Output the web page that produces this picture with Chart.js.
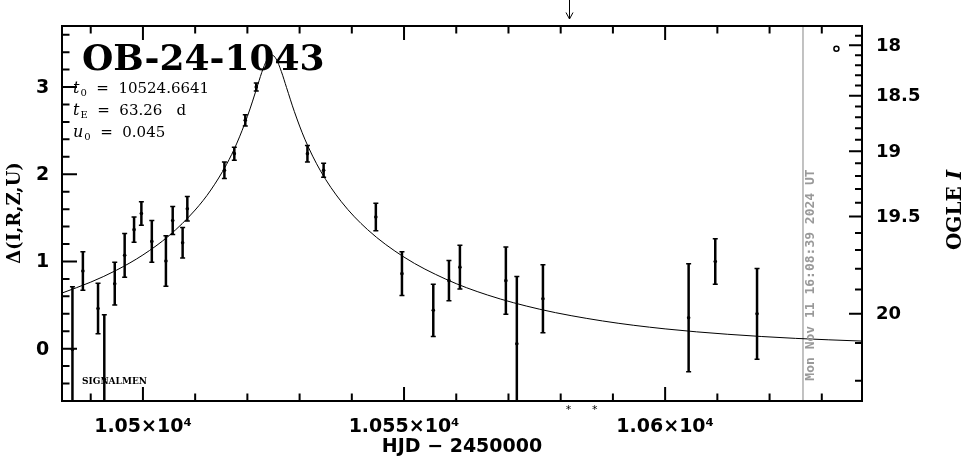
<!DOCTYPE html>
<html>
<head>
<meta charset="utf-8">
<script src="https://cdn.jsdelivr.net/npm/chart.js@4.4.1/dist/chart.umd.min.js"></script>
<style>
html, body { margin: 0; padding: 0; background: #fff; }
canvas { display: block; }
</style>
</head>
<body>
<canvas id="chart" width="965" height="459"></canvas>
<script>
// observations (HJD - 2450000, delta, error)
const obsT = [10486.5, 10488.5, 10491.4, 10492.6, 10494.6, 10496.5, 10498.3, 10499.7, 10501.7, 10504.4,
  10505.7, 10507.6, 10508.5, 10515.6, 10517.5, 10519.6, 10521.7, 10531.5, 10534.6, 10544.6,
  10549.6, 10555.6, 10558.6, 10560.7, 10569.5, 10571.6, 10576.6, 10604.5, 10609.6, 10617.6];
const obsDelta = [-0.01, 0.89, 0.46, -0.35, 0.745, 1.07, 1.365, 1.55, 1.23, 1.005,
  1.47, 1.215, 1.605, 2.045, 2.236, 2.618, 3.0, 2.236, 2.045, 1.51,
  0.86, 0.44, 0.78, 0.935, 0.78, 0.057, 0.573, 0.355, 1.0, 0.40];
const obsErr = [0.72, 0.22, 0.29, 0.74, 0.245, 0.25, 0.145, 0.135, 0.24, 0.29,
  0.16, 0.175, 0.14, 0.095, 0.075, 0.065, 0.045, 0.095, 0.08, 0.157,
  0.25, 0.30, 0.23, 0.25, 0.385, 0.77, 0.39, 0.62, 0.26, 0.52];

// model curve
const modelT = [10484.5, 10490, 10495, 10500, 10505, 10510, 10513, 10516, 10518, 10520,
  10521, 10522, 10523, 10524, 10524.66, 10525.5, 10526.5, 10527.5, 10529, 10531,
  10534, 10538, 10543, 10550, 10558, 10566, 10576, 10588, 10600, 10612, 10625, 10637.7];
const modelDelta = [0.638, 0.763, 0.902, 1.075, 1.296, 1.590, 1.819, 2.112, 2.358, 2.663,
  2.839, 3.027, 3.209, 3.339, 3.368, 3.323, 3.179, 2.994, 2.718, 2.403,
  2.039, 1.685, 1.366, 1.050, 0.797, 0.615, 0.452, 0.318, 0.227, 0.165, 0.118, 0.087];

// baseline marker
const baseT = [10632.8];
const baseDelta = [3.44];

// axes
const xMin = 10484.5, xMax = 10637.7;
const yMin = -0.6, yMax = 3.7;
const xTickValues = [10500, 10550, 10600];
const xTickLabels = ['1.05×10⁴', '1.055×10⁴', '1.06×10⁴'];
const yTickValues = [0, 1, 2, 3];
const magTicks = [17.9, 18.0, 18.1, 18.2, 18.3, 18.4, 18.5, 18.6, 18.7, 18.8, 18.9, 19.0,
  19.1, 19.2, 19.3, 19.4, 19.5, 19.6, 19.7, 19.8, 19.9, 20.0, 20.1, 20.2];
const magTickDelta = [3.589, 3.478, 3.365, 3.251, 3.136, 3.018, 2.900, 2.778, 2.654, 2.527, 2.397, 2.263,
  2.125, 1.980, 1.830, 1.672, 1.515, 1.325, 1.131, 0.917, 0.678, 0.4005, 0.065, -0.369];
const magLabels = ['18', '18.5', '19', '19.5', '20'];

// markers
const nowT = 10626.4;
const arrowT = [10581.5];
const starT = [10581.5, 10586.5];

const decor = {
  id: 'decor',
  beforeDatasetsDraw(chart) {
    const { ctx, chartArea: a, scales: { x, y } } = chart;
    ctx.save();
    ctx.beginPath();
    ctx.rect(a.left, a.top, a.right - a.left, a.bottom - a.top);
    ctx.clip();
    // now line
    const nx = x.getPixelForValue(nowT);
    ctx.strokeStyle = '#999';
    ctx.lineWidth = 1.2;
    ctx.beginPath(); ctx.moveTo(nx, a.top); ctx.lineTo(nx, a.bottom); ctx.stroke();
    // error bars
    ctx.strokeStyle = '#000';
    obsT.forEach((t, i) => {
      const px = x.getPixelForValue(t);
      const y1 = y.getPixelForValue(obsDelta[i] + obsErr[i]);
      const y2 = y.getPixelForValue(obsDelta[i] - obsErr[i]);
      ctx.lineWidth = 2.5;
      ctx.beginPath(); ctx.moveTo(px, y1); ctx.lineTo(px, y2); ctx.stroke();
      ctx.lineWidth = 1.5;
      ctx.beginPath();
      ctx.moveTo(px - 2.5, y1); ctx.lineTo(px + 2.5, y1);
      ctx.moveTo(px - 2.5, y2); ctx.lineTo(px + 2.5, y2);
      ctx.stroke();
    });
    ctx.restore();
  },
  afterDraw(chart) {
    const { ctx, chartArea: a, scales: { x, y } } = chart;
    ctx.save();
    ctx.strokeStyle = '#000';
    ctx.fillStyle = '#000';

    // ticks
    ctx.lineWidth = 2;
    ctx.beginPath();
    for (let t = 10490; t <= xMax; t += 10) {
      const px = x.getPixelForValue(t);
      const len = t % 50 === 0 ? 14 : 7.5;
      ctx.moveTo(px, a.bottom); ctx.lineTo(px, a.bottom - len);
      ctx.moveTo(px, a.top); ctx.lineTo(px, a.top + len);
    }
    for (let k = -2; k <= 18; k++) {
      const py = y.getPixelForValue(k * 0.2);
      const len = k % 5 === 0 ? 15 : 7.5;
      ctx.moveTo(a.left, py); ctx.lineTo(a.left + len, py);
    }
    magTicks.forEach((m, i) => {
      const py = y.getPixelForValue(magTickDelta[i]);
      const major = Math.abs(m * 2 - Math.round(m * 2)) < 1e-6;
      const len = major ? 13 : 7;
      ctx.moveTo(a.right, py); ctx.lineTo(a.right - len, py);
    });
    ctx.stroke();

    // frame
    ctx.lineWidth = 2;
    ctx.strokeRect(a.left, a.top, a.right - a.left, a.bottom - a.top);

    // tick labels
    ctx.font = 'bold 19px "DejaVu Sans"';
    ctx.textAlign = 'center';
    ctx.textBaseline = 'middle';
    yTickValues.forEach(v => ctx.fillText(String(v), 42.5, y.getPixelForValue(v) + 1));
    xTickValues.forEach((v, i) => ctx.fillText(xTickLabels[i], x.getPixelForValue(v), 427));
    ctx.font = 'bold 18px "DejaVu Sans"';
    ctx.textAlign = 'left';
    let li = 0;
    magTicks.forEach((m, i) => {
      if (Math.abs(m * 2 - Math.round(m * 2)) < 1e-6 && m >= 18 && m <= 20) {
        ctx.fillText(magLabels[li++], 876, y.getPixelForValue(magTickDelta[i]) + 1);
      }
    });

    // axis titles
    ctx.font = 'bold 19px "DejaVu Sans"';
    ctx.textAlign = 'center';
    ctx.fillText('HJD − 2450000', (a.left + a.right) / 2, 447);

    ctx.save();
    ctx.translate(15, 213);
    ctx.rotate(-Math.PI / 2);
    ctx.font = 'bold 18px "DejaVu Serif"';
    ctx.fillText('Δ(I,R,Z,U)', 0, 0);
    ctx.restore();

    ctx.save();
    ctx.translate(956, 210);
    ctx.rotate(-Math.PI / 2);
    ctx.font = 'bold 20px "DejaVu Serif"';
    const w1 = ctx.measureText('OGLE ').width;
    ctx.font = 'bold italic 20px "DejaVu Serif"';
    const w2 = ctx.measureText('I').width;
    ctx.textAlign = 'left';
    ctx.font = 'bold 20px "DejaVu Serif"';
    ctx.fillText('OGLE ', -(w1 + w2) / 2, 0);
    ctx.font = 'bold italic 20px "DejaVu Serif"';
    ctx.fillText('I', -(w1 + w2) / 2 + w1, 0);
    ctx.restore();

    // timestamp
    ctx.save();
    ctx.translate(x.getPixelForValue(nowT) + 8, 275);
    ctx.rotate(-Math.PI / 2);
    ctx.fillStyle = '#999';
    ctx.font = 'bold 13px "DejaVu Sans Mono"';
    ctx.fillText('Mon Nov 11 16:08:39 2024 UT', 0, 0);
    ctx.restore();

    // event name and parameters
    ctx.textAlign = 'left';
    ctx.textBaseline = 'alphabetic';
    ctx.font = 'bold 36px "DejaVu Serif"';
    ctx.fillText('OB-24-1043', 82, 70);

    const params = [['t', '0', '  =  10524.6641', 93], ['t', 'E', '  =  63.26   d', 115], ['u', '0', '  =  0.045', 137]];
    params.forEach(([sym, sub, rest, by]) => {
      let px = 73;
      ctx.font = 'italic 16px "DejaVu Serif"';
      ctx.fillText(sym, px, by);
      px += ctx.measureText(sym).width + 1;
      ctx.font = '10px "DejaVu Serif"';
      ctx.fillText(sub, px, by + 3);
      px += ctx.measureText(sub).width;
      ctx.font = '15px "DejaVu Serif"';
      ctx.fillText(rest, px, by);
    });

    ctx.font = 'bold 9px "DejaVu Serif"';
    ctx.fillText('SIGNALMEN', 82, 384);

    // arrow at top
    ctx.lineWidth = 1;
    arrowT.forEach(t => {
      const px = Math.round(x.getPixelForValue(t)) + 0.5;
      ctx.beginPath();
      ctx.moveTo(px, 0); ctx.lineTo(px, 19);
      ctx.moveTo(px - 3.5, 12.5); ctx.lineTo(px, 19); ctx.lineTo(px + 3.5, 12.5);
      ctx.stroke();
    });

    // asterisks below axis
    ctx.font = '11px "DejaVu Sans"';
    ctx.textAlign = 'center';
    ctx.textBaseline = 'middle';
    starT.forEach(t => ctx.fillText('*', x.getPixelForValue(t), 410));

    ctx.restore();
  }
};

new Chart(document.getElementById('chart'), {
  type: 'scatter',
  data: {
    datasets: [
      {
        type: 'line',
        data: modelT.map((t, i) => ({ x: t, y: modelDelta[i] })),
        borderColor: '#000',
        borderWidth: 1,
        pointRadius: 0,
        cubicInterpolationMode: 'monotone',
        fill: false
      },
      {
        data: obsT.map((t, i) => ({ x: t, y: obsDelta[i] })),
        pointRadius: 1.8,
        backgroundColor: '#000',
        borderWidth: 0
      },
      {
        data: baseT.map((t, i) => ({ x: t, y: baseDelta[i] })),
        pointRadius: 2.5,
        backgroundColor: '#fff',
        borderColor: '#000',
        borderWidth: 1.5
      }
    ]
  },
  options: {
    responsive: false,
    animation: false,
    devicePixelRatio: 1,
    layout: { padding: { left: 62, right: 103, top: 26, bottom: 58 } },
    plugins: { legend: { display: false }, tooltip: { enabled: false } },
    scales: {
      x: { type: 'linear', display: false, min: xMin, max: xMax },
      y: { type: 'linear', display: false, min: yMin, max: yMax }
    }
  },
  plugins: [decor]
});
</script>
</body>
</html>
